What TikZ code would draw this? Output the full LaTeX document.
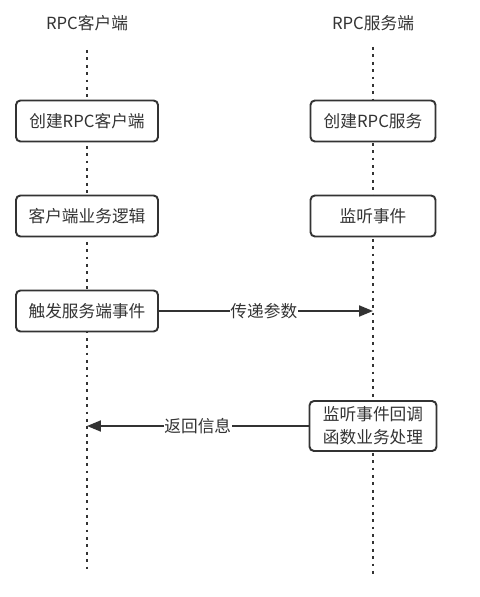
\documentclass[tikz,border=0pt]{standalone}
\usepackage{fontspec}
\setmainfont{Noto Sans CJK SC}
\usetikzlibrary{arrows.meta, positioning}
\definecolor{ink}{HTML}{333333}
\tikzset{
    actor/.style={font=\fontsize{9.5}{11}\selectfont, text=ink},
    lifeline/.style={draw=ink, line width=1.2pt, dash pattern=on 1.6pt off 2.6pt},
    stepbox/.style={rectangle, rounded corners=2.5pt, draw=ink, line width=1.1pt, fill=white,
                    minimum width=2.84cm, minimum height=0.82cm, align=center,
                    font=\fontsize{9.5}{13}\selectfont, text=ink},
    srvbox/.style={stepbox, minimum width=2.5cm},
    msg/.style={-{Triangle[length=2.8mm, width=2.2mm]}, draw=ink, line width=1.1pt},
    lbl/.style={font=\fontsize{9.5}{11}\selectfont, text=ink, fill=white, inner sep=0.5pt},
}
\begin{document}
\begin{tikzpicture}[x=0.02cm, y=-0.02cm]
    \useasboundingbox (0,0) rectangle (479,597);

    \node[actor] (client) at (87,23) {RPC客户端};
    \node[actor] (server) at (373,23) {RPC服务端};

    % lifelines
    \coordinate (cTop) at (87,50);
    \coordinate (cBot) at (87,572);
    \coordinate (sTop) at (373,47);
    \coordinate (sBot) at (373,578);
    \draw[lifeline] (cTop) -- (cBot);
    \draw[lifeline] (sTop) -- (sBot);

    % client side
    \node[stepbox] (createClient) at (87,121) {创建RPC客户端};
    \node[stepbox] (logic) at (87,216) {客户端业务逻辑};
    \node[stepbox] (trigger) at (87,311) {触发服务端事件};

    % server side
    \node[srvbox] (createServer) at (373,121) {创建RPC服务};
    \node[srvbox] (listen) at (373,216) {监听事件};
    \node[srvbox, minimum width=2.54cm, minimum height=0.96cm] (callback) at (373,426)
        {监听事件回调\\函数业务处理};

    \coordinate (sIn) at (373,311);
    \coordinate (cIn) at (87,426);

    \draw[msg] (trigger) -- node[lbl, pos=0.49] {传递参数} (sIn);
    \draw[msg] (callback) -- node[lbl, pos=0.5] {返回信息} (cIn);

\end{tikzpicture}
\end{document}
